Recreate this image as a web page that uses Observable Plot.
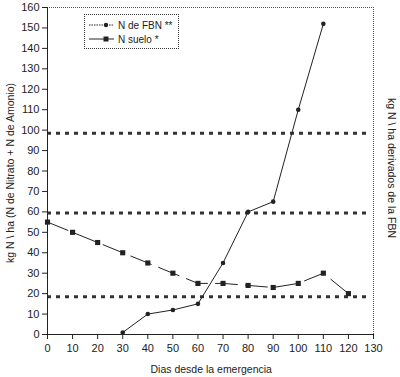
<!DOCTYPE html>
<html>
<head>
<meta charset="utf-8">
<script src="https://cdn.jsdelivr.net/npm/d3@7"></script>
<script src="https://cdn.jsdelivr.net/npm/@observablehq/plot@0.6"></script>
<style>
  body { margin: 0; background: #fff; }
  #wrap { position: relative; width: 400px; height: 377px; font-family: "Liberation Sans", Arial, sans-serif; color: #222; }
  .ttl { position: absolute; font-size: 10.5px; white-space: nowrap; line-height: 12px; }
  #legend { position: absolute; left: 84px; top: 14px; width: 93px; height: 33px; border: 1px dotted #333; background: #fff; font-size: 10px; }
  #legend .row { position: absolute; left: 4px; height: 14px; display: flex; align-items: center; white-space: nowrap; }
</style>
</head>
<body>
<div id="wrap"></div>
<script>
// Data
const fbnDays = [30, 40, 50, 60, 70, 80, 90, 100, 110];
const fbnN = [1, 10, 12, 15, 35, 60, 65, 110, 152];
const sueloDays = [0, 10, 20, 30, 40, 50, 60, 70, 80, 90, 100, 110, 120];
const sueloN = [55, 50, 45, 40, 35, 30, 25, 25, 24, 23, 25, 30, 20];
const refLevels = [98.5, 59.5, 18.5];
const xTicks = [0, 10, 20, 30, 40, 50, 60, 70, 80, 90, 100, 110, 120, 130];
const yTicks = [0, 10, 20, 30, 40, 50, 60, 70, 80, 90, 100, 110, 120, 130, 140, 150, 160];
const seriesNames = ["N de FBN **", "N suelo *"];
const xTitle = "Dias desde la emergencia";
const yTitleLeft = "kg N \\ ha  (N de Nitrato + N de Amonio)";
const yTitleRight = "kg N \\ ha derivados de la FBN";

const fbn = fbnDays.map((d, i) => ({day: d, n: fbnN[i]}));
const suelo = sueloDays.map((d, i) => ({day: d, n: sueloN[i]}));

const chart = Plot.plot({
  width: 400,
  height: 377,
  marginLeft: 47,
  marginRight: 27,
  marginTop: 7,
  marginBottom: 43,
  style: {fontFamily: "Liberation Sans, Arial, sans-serif", fontSize: "11px", color: "#222", background: "#fff"},
  x: {domain: [0, 130]},
  y: {domain: [0, 160]},
  marks: [
    Plot.ruleY([160], {stroke: "#555", strokeDasharray: "1,1"}),
    Plot.ruleX([130], {stroke: "#555", strokeDasharray: "1,1"}),
    Plot.ruleY(refLevels, {x1: 0, x2: 128, stroke: "#333", strokeWidth: 3, strokeDasharray: "4,5"}),
    Plot.line(suelo, {x: "day", y: "n", stroke: "#222", strokeWidth: 1, strokeDasharray: "22,8"}),
    Plot.dot(suelo, {x: "day", y: "n", symbol: "square", r: 2.9, fill: "#222", stroke: "none"}),
    Plot.line(fbn, {x: "day", y: "n", stroke: "#222", strokeWidth: 1}),
    Plot.dot(fbn, {x: "day", y: "n", r: 2.3, fill: "#222", stroke: "none"}),
    Plot.axisX({ticks: xTicks, tickSize: 5, tickPadding: 5, label: null, fontSize: 11}),
    Plot.axisY({ticks: yTicks, tickSize: 5, tickPadding: 3, label: null, fontSize: 11}),
    Plot.ruleX([0], {stroke: "#222"}),
    Plot.ruleY([0], {stroke: "#222"})
  ]
});

const wrap = document.getElementById("wrap");
wrap.appendChild(chart);

function addTitle(text, cx, cy, rot) {
  const t = document.createElement("div");
  t.className = "ttl";
  t.textContent = text;
  wrap.appendChild(t);
  const w = t.offsetWidth, h = t.offsetHeight;
  t.style.left = (cx - w / 2) + "px";
  t.style.top = (cy - h / 2) + "px";
  if (rot) t.style.transform = "rotate(" + rot + "deg)";
}
addTitle(yTitleLeft, 10, 173, -90);
addTitle(yTitleRight, 392, 168, 90);
addTitle(xTitle, 211, 369, 0);

// Legend
const lg = document.createElement("div");
lg.id = "legend";
const sym = [
  '<svg width="26" height="8"><line x1="0" y1="4" x2="25" y2="4" stroke="#222" stroke-dasharray="1.5,1"/><circle cx="17" cy="4" r="2.2" fill="#222"/></svg>',
  '<svg width="26" height="8"><line x1="0" y1="4" x2="25" y2="4" stroke="#222"/><rect x="14.5" y="1.5" width="5" height="5" fill="#222"/></svg>'
];
seriesNames.forEach((name, i) => {
  const row = document.createElement("div");
  row.className = "row";
  row.style.top = (3 + i * 14) + "px";
  row.innerHTML = sym[i] + '<span style="margin-left:3px">' + name + '</span>';
  lg.appendChild(row);
});
wrap.appendChild(lg);
</script>
</body>
</html>
